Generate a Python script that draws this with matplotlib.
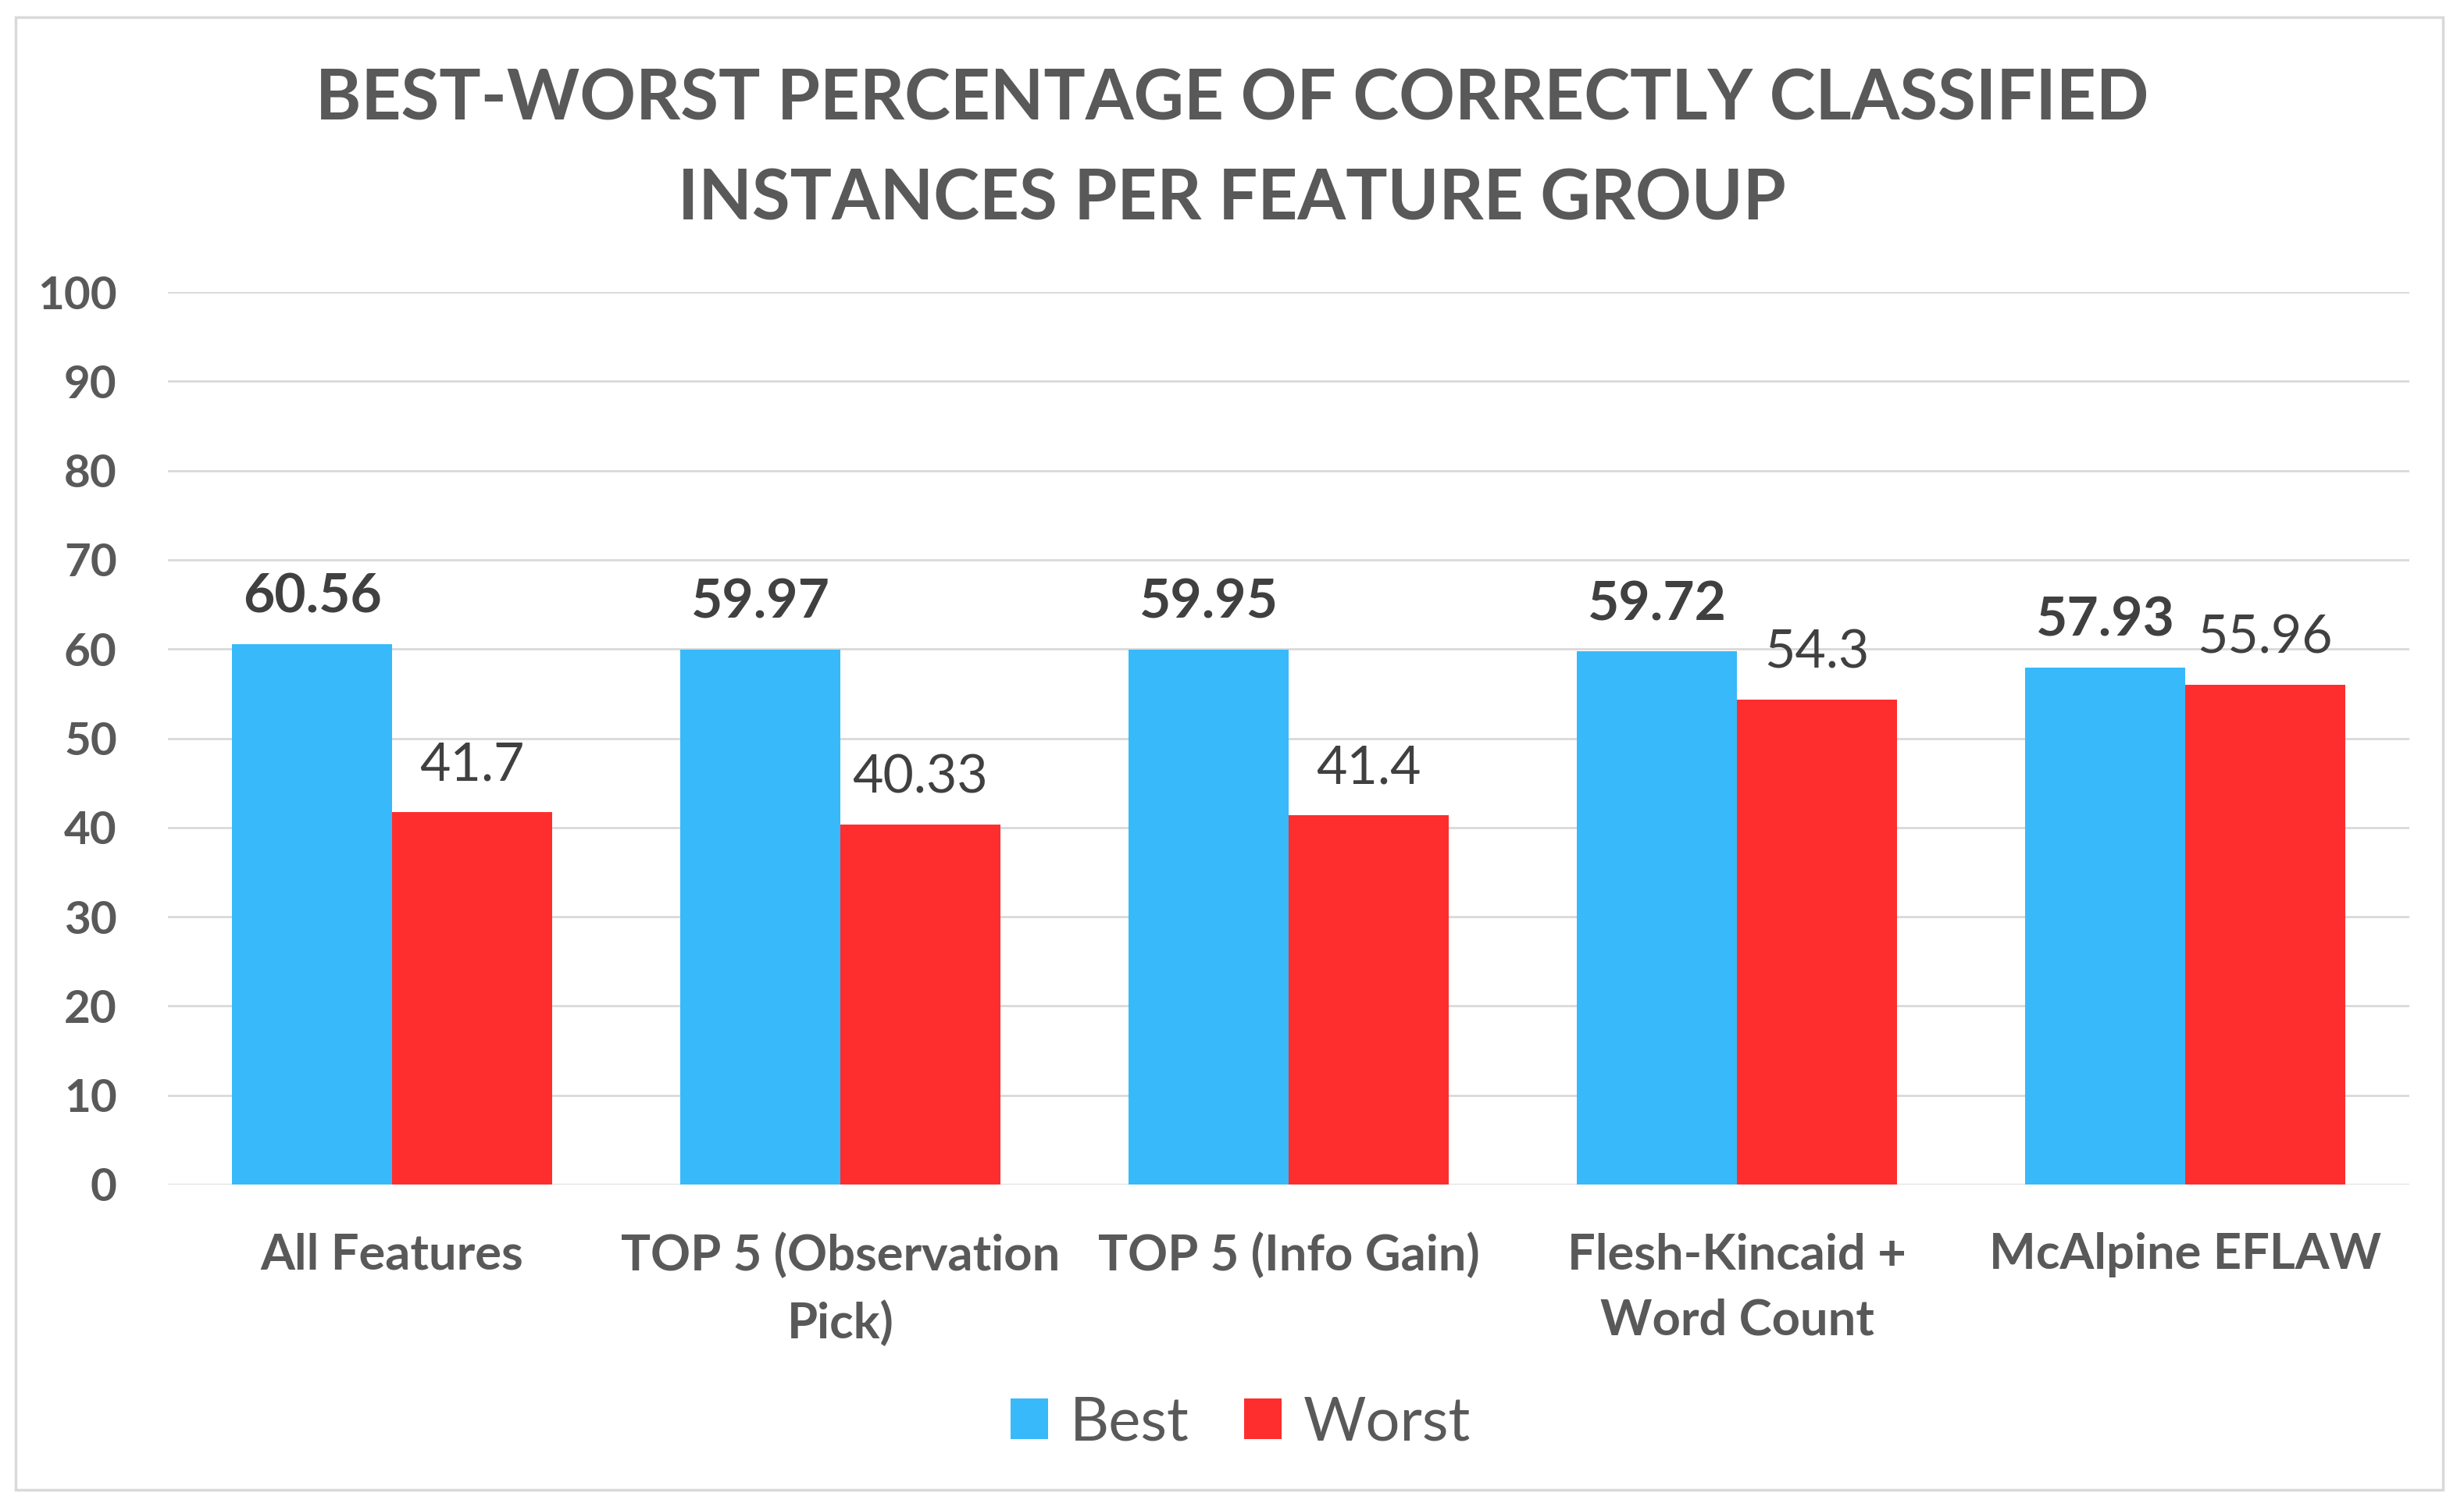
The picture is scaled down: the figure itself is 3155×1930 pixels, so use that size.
#import libraries
import numpy as np
import matplotlib.pyplot as plt
from matplotlib.patches import Rectangle

#Chart data
categories = ["All Features", "TOP 5 (Observation\nPick)", "TOP 5 (Info Gain)",
              "Flesh-Kincaid +\nWord Count", "McAlpine EFLAW"]
best = [60.56, 59.97, 59.95, 59.72, 57.93]
worst = [41.7, 40.33, 41.4, 54.3, 55.96]
series_names = ["Best", "Worst"]
y_ticks = [0, 10, 20, 30, 40, 50, 60, 70, 80, 90, 100]

#Style
BLUE = "#38B9F9"
RED = "#FE2E2E"
TEXT_GRAY = "#595959"
LABEL_DARK = "#404040"
GRID = "#D9D9D9"
FONT = ["Lato", "DejaVu Sans"]

plt.rcParams["font.family"] = FONT

W, H = 3155, 1930
fig = plt.figure(figsize=(W / 100, H / 100), dpi=100)

#Outer chart border
fig.patches.append(Rectangle((20 / W, 1 - 1908 / H), (3128 - 20) / W, (1908 - 22) / H,
                             transform=fig.transFigure, fill=False,
                             edgecolor=GRID, linewidth=2.5))

#Title (two lines)
fig.text(0.5, 1 - 128 / H, "BEST-WORST PERCENTAGE OF CORRECTLY CLASSIFIED",
         ha="center", va="center", fontsize=64, fontweight="bold", color=TEXT_GRAY)
fig.text(0.5, 1 - 256 / H, "INSTANCES PER FEATURE GROUP",
         ha="center", va="center", fontsize=64, fontweight="bold", color=TEXT_GRAY)

#Plot area
ax = fig.add_axes([215 / W, 1 - 1517 / H, (3085 - 215) / W, (1517 - 374) / H])

x = np.arange(len(categories))
bw = 0.357

bars_best = ax.bar(x - bw / 2, best, bw, color=BLUE, label=series_names[0], zorder=3)
bars_worst = ax.bar(x + bw / 2, worst, bw, color=RED, label=series_names[1], zorder=3)

#Data labels
for rect, v in zip(bars_best, best):
    ax.annotate(f"{v}", (rect.get_x() + rect.get_width() / 2, v),
                xytext=(0, 43), textcoords="offset points", ha="center", va="center",
                fontsize=50, fontweight="bold", color=LABEL_DARK)
for rect, v in zip(bars_worst, worst):
    ax.annotate(f"{v}", (rect.get_x() + rect.get_width() / 2, v),
                xytext=(0, 43), textcoords="offset points", ha="center", va="center",
                fontsize=49, color=LABEL_DARK)

#Axes settings
ax.set_xlim(-0.5, len(categories) - 0.5)
ax.set_ylim(0, 100)
ax.set_yticks(y_ticks)
ax.set_xticks(x)
ax.set_xticklabels(categories, linespacing=1.56)
ax.yaxis.grid(True, color=GRID, linewidth=2, zorder=0)
ax.set_axisbelow(True)
for s in ax.spines.values():
    s.set_visible(False)
ax.tick_params(axis="y", length=0, pad=47, labelsize=42, labelcolor=TEXT_GRAY)
ax.tick_params(axis="x", length=0, pad=44, labelsize=45.5, labelcolor=TEXT_GRAY)
for lbl in ax.get_yticklabels() + ax.get_xticklabels():
    lbl.set_fontweight("bold")

#Legend
fig.legend(loc="center", bbox_to_anchor=(0.5035, 1 - 1823 / H), ncol=2, frameon=False,
           fontsize=56, labelcolor=TEXT_GRAY, handlelength=0.62, handleheight=0.64,
           handletextpad=0.36, columnspacing=0.9)

fig.savefig("out.png", dpi=100)
